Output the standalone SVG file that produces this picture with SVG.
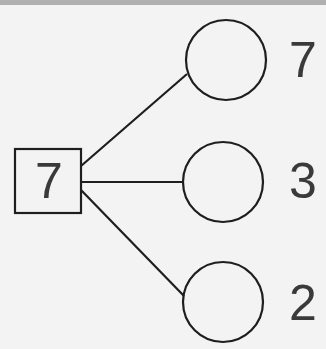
<svg xmlns="http://www.w3.org/2000/svg" width="326" height="349" viewBox="0 0 326 349">
<style>
.node{fill:none;stroke:#1e1e1e;stroke-width:2.2}
.num{font-family:"Liberation Sans",Arial,sans-serif;font-size:50px;fill:#3a3a3a}
.edge{stroke:#1e1e1e;stroke-width:2.2;fill:none}
</style>
<rect x="0" y="0" width="326" height="349" fill="#f3f3f3"/>
<rect x="0" y="0" width="326" height="5" fill="#b0b0b0"/>
<g id="connectors">
<line class="edge" x1="81" y1="166" x2="187" y2="74"/>
<line class="edge" x1="81" y1="182" x2="183" y2="182"/>
<line class="edge" x1="81" y1="190" x2="184" y2="296"/>
</g>
<g id="root">
<rect class="node" x="15" y="149" width="66" height="64" fill="#fafafa"/>
<text class="num" x="49" y="198" text-anchor="middle">7</text>
</g>
<g id="part1">
<circle class="node" cx="226" cy="60" r="40"/>
<text class="num" x="289" y="77">7</text>
</g>
<g id="part2">
<circle class="node" cx="223" cy="182" r="40"/>
<text class="num" x="289" y="198">3</text>
</g>
<g id="part3">
<circle class="node" cx="223" cy="302" r="40"/>
<text class="num" x="289" y="320">2</text>
</g>
</svg>
